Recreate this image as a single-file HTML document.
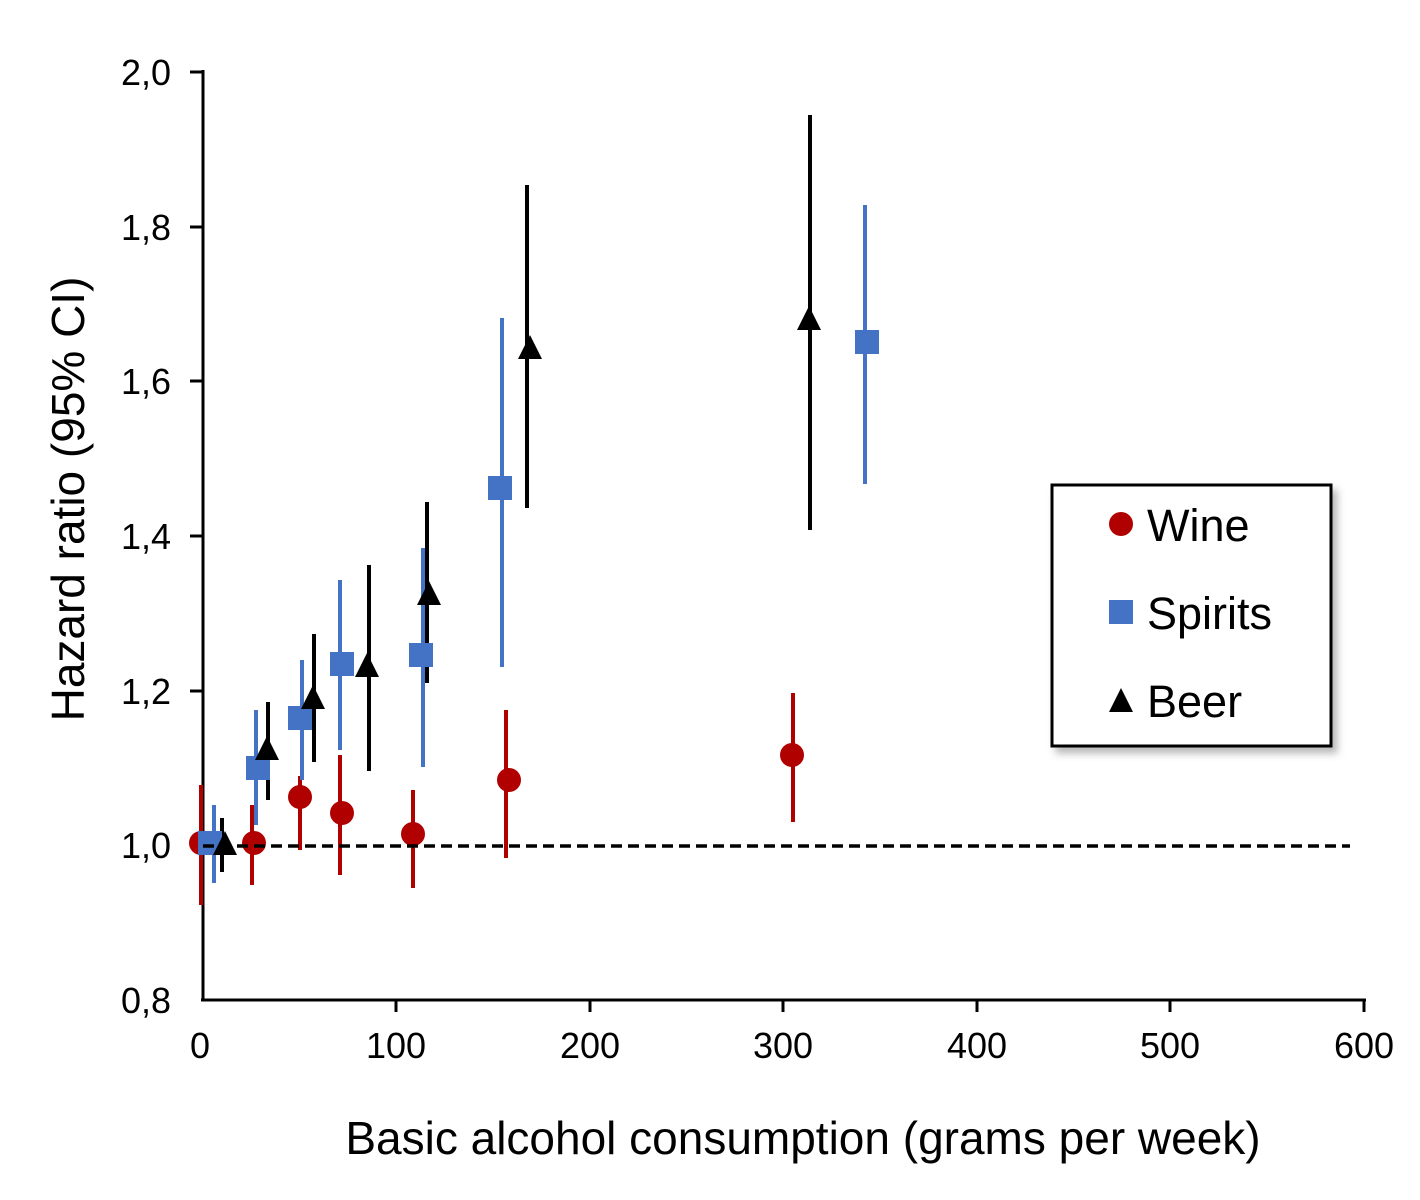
<!DOCTYPE html><html><head><style>body{margin:0;background:#fff}</style></head><body>
<svg width="1420" height="1195" xmlns="http://www.w3.org/2000/svg" font-family="Liberation Sans, sans-serif">
<defs><filter id="sh" x="-10%" y="-10%" width="130%" height="130%"><feDropShadow dx="5" dy="6" stdDeviation="4" flood-color="#888" flood-opacity="0.6"/></filter></defs>
<g stroke="#000" stroke-width="3">
<line x1="203" y1="70" x2="203" y2="1001"/><line x1="201" y1="1000" x2="1366" y2="1000"/>
<line x1="190" y1="72" x2="203" y2="72"/><line x1="190" y1="227" x2="203" y2="227"/><line x1="190" y1="381" x2="203" y2="381"/><line x1="190" y1="536" x2="203" y2="536"/><line x1="190" y1="691" x2="203" y2="691"/><line x1="190" y1="845" x2="203" y2="845"/>
<line x1="396" y1="1000" x2="396" y2="1012"/><line x1="590" y1="1000" x2="590" y2="1012"/><line x1="783" y1="1000" x2="783" y2="1012"/><line x1="977" y1="1000" x2="977" y2="1012"/><line x1="1170" y1="1000" x2="1170" y2="1012"/><line x1="1364" y1="1000" x2="1364" y2="1012"/>
</g>
<g font-size="36" text-anchor="end"><text x="171" y="85">2,0</text><text x="171" y="240">1,8</text><text x="171" y="394">1,6</text><text x="171" y="549">1,4</text><text x="171" y="704">1,2</text><text x="171" y="858">1,0</text><text x="171" y="1013">0,8</text></g>
<g font-size="36" text-anchor="middle"><text x="200" y="1058">0</text><text x="396" y="1058">100</text><text x="590" y="1058">200</text><text x="783" y="1058">300</text><text x="977" y="1058">400</text><text x="1170" y="1058">500</text><text x="1364" y="1058">600</text></g>
<text x="803" y="1154" font-size="46" text-anchor="middle">Basic alcohol consumption (grams per week)</text>
<text transform="translate(84,499) rotate(-90)" font-size="46" text-anchor="middle">Hazard ratio (95% CI)</text>
<g stroke="#b00000" stroke-width="4"><line x1="201" y1="785" x2="201" y2="905"/><line x1="252" y1="805" x2="252" y2="885"/><line x1="300" y1="776" x2="300" y2="850"/><line x1="340" y1="755" x2="340" y2="875"/><line x1="413" y1="790" x2="413" y2="888"/><line x1="506" y1="710" x2="506" y2="858"/><line x1="793" y1="693" x2="793" y2="822"/></g>
<g stroke="#4472c4" stroke-width="4"><line x1="214" y1="805" x2="214" y2="883"/><line x1="256" y1="710" x2="256" y2="825"/><line x1="302" y1="660" x2="302" y2="780"/><line x1="340" y1="580" x2="340" y2="750"/><line x1="423" y1="548" x2="423" y2="767"/><line x1="502" y1="318" x2="502" y2="667"/><line x1="865" y1="205" x2="865" y2="484"/></g>
<g stroke="#000" stroke-width="4"><line x1="222" y1="818" x2="222" y2="872"/><line x1="268" y1="702" x2="268" y2="800"/><line x1="314" y1="634" x2="314" y2="762"/><line x1="369" y1="565" x2="369" y2="771"/><line x1="427" y1="502" x2="427" y2="683"/><line x1="527" y1="185" x2="527" y2="508"/><line x1="810" y1="115" x2="810" y2="530"/></g>
<g fill="#b00000"><circle cx="201" cy="843" r="12"/><circle cx="254" cy="843" r="12"/><circle cx="300" cy="797" r="12"/><circle cx="342" cy="813" r="12"/><circle cx="413" cy="834" r="12"/><circle cx="509" cy="780" r="12"/><circle cx="792" cy="755" r="12"/></g>
<g fill="#4472c4"><rect x="198" y="831" width="24" height="24"/><rect x="246" y="756" width="24" height="24"/><rect x="288" y="706" width="24" height="24"/><rect x="330" y="652" width="24" height="24"/><rect x="409" y="643" width="24" height="24"/><rect x="488" y="476" width="24" height="24"/><rect x="855" y="330" width="24" height="24"/></g>
<line x1="203" y1="846" x2="1350" y2="846" stroke="#000" stroke-width="3.5" stroke-dasharray="11,6"/>
<g fill="#000"><path d="M225 831 l12 24 h-24z"/><path d="M267 736 l12 24 h-24z"/><path d="M313 685 l12 24 h-24z"/><path d="M367 653 l12 24 h-24z"/><path d="M429 581 l12 24 h-24z"/><path d="M530 335 l12 24 h-24z"/><path d="M809 306 l12 24 h-24z"/></g>
<rect x="1052" y="485" width="279" height="261" fill="#fff" stroke="#000" stroke-width="3" filter="url(#sh)"/>
<circle cx="1121" cy="524" r="12" fill="#b00000"/><rect x="1109" y="600" width="24" height="24" fill="#4472c4"/><path d="M1121 688 l12 24 h-24z"/>
<g font-size="45"><text x="1147" y="541">Wine</text><text x="1147" y="629">Spirits</text><text x="1147" y="717">Beer</text></g>
</svg></body></html>
